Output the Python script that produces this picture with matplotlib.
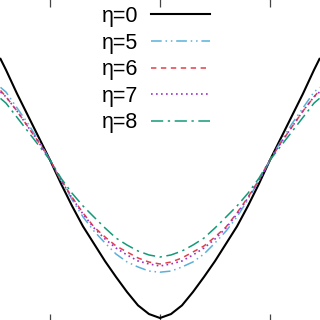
import matplotlib
matplotlib.use('Agg')
import matplotlib.pyplot as plt

# angle-like coordinate (ticks at -1, 0, 1) and the six curves
x = [-1.45, -1.4, -1.3, -1.2, -1.1, -1.0, -0.9, -0.8, -0.7, -0.6, -0.5, -0.4, -0.3, -0.2, -0.1,
     0.0, 0.1, 0.2, 0.3, 0.4, 0.5, 0.6, 0.7, 0.8, 0.9, 1.0, 1.1, 1.2, 1.3, 1.4, 1.45]

eta0 = [1.64, 1.57, 1.42, 1.28, 1.14, 1.0, 0.85, 0.71, 0.58, 0.47, 0.36, 0.26, 0.165, 0.08, 0.025,
        0.0, 0.025, 0.08, 0.165, 0.26, 0.36, 0.47, 0.58, 0.71, 0.85, 1.0, 1.14, 1.28, 1.42, 1.57, 1.64]
eta5 = [1.46, 1.43, 1.33, 1.23, 1.12, 1.0, 0.87, 0.75, 0.64, 0.55, 0.475, 0.405, 0.355, 0.323, 0.297,
        0.29, 0.297, 0.323, 0.355, 0.405, 0.475, 0.55, 0.64, 0.75, 0.87, 1.0, 1.12, 1.23, 1.33, 1.43, 1.46]
eta6 = [1.44, 1.40, 1.31, 1.21, 1.11, 1.0, 0.875, 0.765, 0.665, 0.576, 0.513, 0.456, 0.418, 0.38, 0.354,
        0.342, 0.354, 0.38, 0.418, 0.456, 0.513, 0.576, 0.665, 0.765, 0.875, 1.0, 1.11, 1.21, 1.31, 1.40, 1.44]
eta7 = [1.43, 1.40, 1.31, 1.21, 1.11, 1.0, 0.872, 0.76, 0.658, 0.57, 0.50, 0.443, 0.399, 0.361, 0.342,
        0.329, 0.342, 0.361, 0.399, 0.443, 0.50, 0.57, 0.658, 0.76, 0.872, 1.0, 1.11, 1.21, 1.31, 1.40, 1.43]
eta8 = [1.39, 1.36, 1.27, 1.18, 1.09, 1.0, 0.885, 0.79, 0.709, 0.639, 0.57, 0.506, 0.462, 0.424, 0.399,
        0.386, 0.399, 0.424, 0.462, 0.506, 0.57, 0.639, 0.709, 0.79, 0.885, 1.0, 1.09, 1.18, 1.27, 1.36, 1.39]

labels = ['η=0', 'η=5', 'η=6', 'η=7', 'η=8']
xticks = [-1, 0, 1]

plt.rcParams['font.family'] = ['Liberation Sans', 'DejaVu Sans']

fig = plt.figure(figsize=(3.2, 3.2), dpi=100)
ax = fig.add_axes([0, -2 / 320, 1, 323 / 320])

ax.plot(x, eta0, color='black', lw=1.5, label=labels[0])
ax.plot(x, eta5, color='#5ab0d8', lw=1.1, dashes=(7, 2.5, 1, 2.5, 1, 2.5), label=labels[1])
ax.plot(x, eta6, color='#e0404a', lw=1.1, dashes=(3.5, 3), label=labels[2])
ax.plot(x, eta7, color='#9b30c8', lw=1.2, dashes=(1, 2), label=labels[3])
ax.plot(x, eta8, color='#129a78', lw=1.1, dashes=(8, 3, 1.5, 3), label=labels[4])

ax.set_xlim(-160 / 110, 160 / 110)
ax.set_ylim(-0.0253, 2.019)
for s in ax.spines.values():
    s.set_visible(False)
ax.set_xticks(xticks)
ax.set_yticks([])
ax.xaxis.set_ticks_position('both')
ax.tick_params(axis='x', direction='in', labelbottom=False, labeltop=False,
               length=6, width=0.9, color='#444444')

ax.legend(loc='upper center', bbox_to_anchor=(156 / 320, 1 - 6 / 320),
          bbox_transform=fig.transFigure, frameon=False, fontsize=15.5,
          markerfirst=False, handlelength=2.75, handletextpad=0.6,
          labelspacing=0.26, borderpad=0, borderaxespad=0)

fig.savefig('out.png', dpi=100)
